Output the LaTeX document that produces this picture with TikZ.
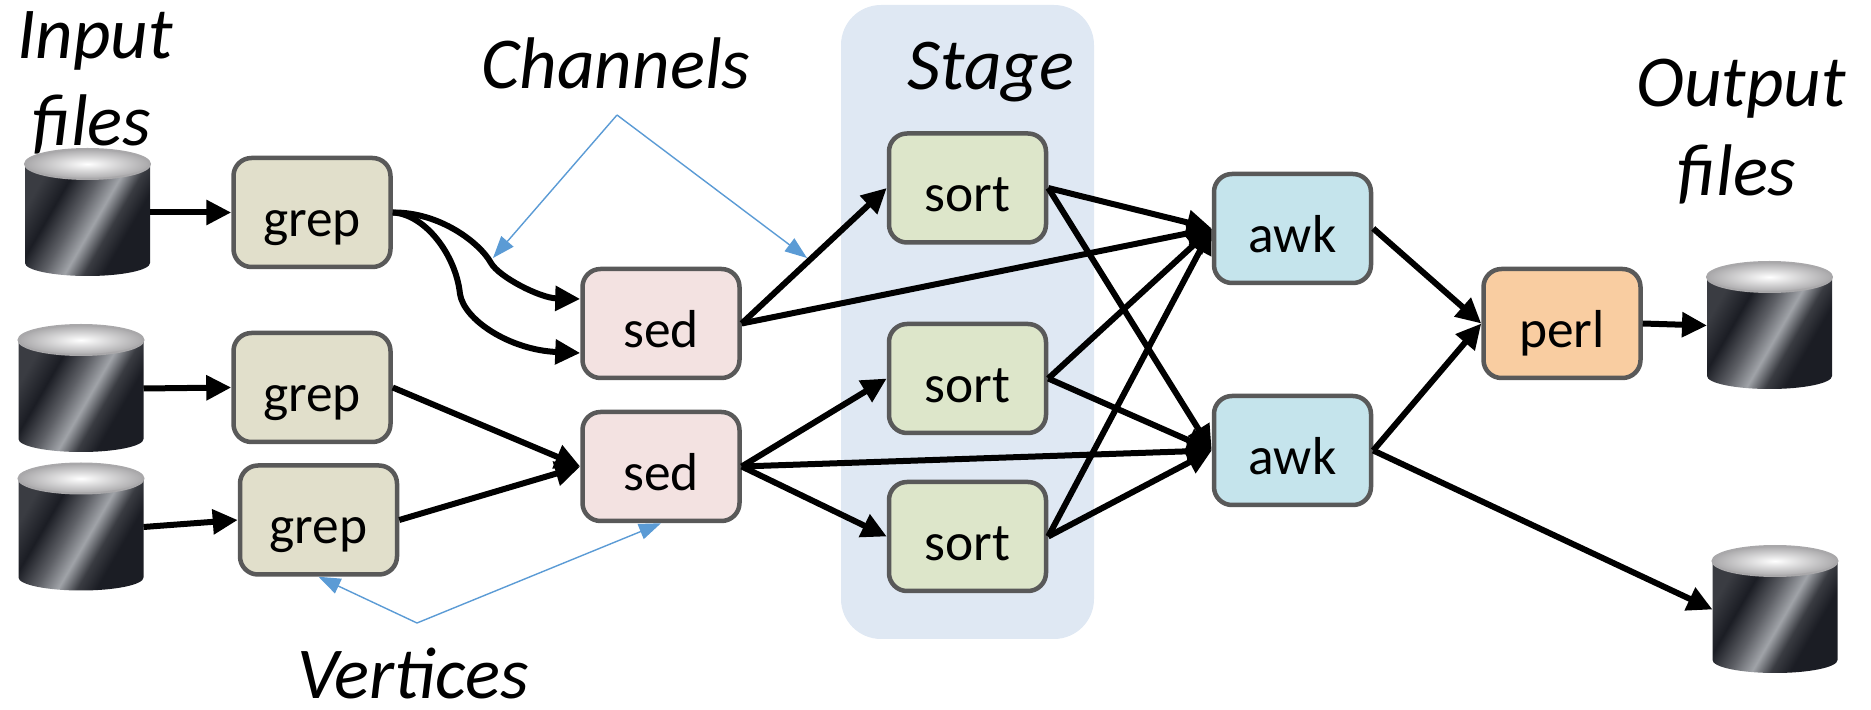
\documentclass[tikz,border=0pt]{standalone}
\usepackage{fontspec}
\setmainfont{Carlito}
\usetikzlibrary{arrows.meta}
\definecolor{boxline}{HTML}{595959}
\definecolor{grepfill}{HTML}{E1DFCB}
\definecolor{sedfill}{HTML}{F3E2E1}
\definecolor{sortfill}{HTML}{DDE6CA}
\definecolor{awkfill}{HTML}{C5E4EC}
\definecolor{perlfill}{HTML}{F9CDA1}
\definecolor{stagebg}{HTML}{DFE8F3}
\definecolor{noteblue}{HTML}{5B9BD5}
\definecolor{cylA}{HTML}{3A3C42}
\definecolor{cylB}{HTML}{1B1D24}
\definecolor{cylC}{HTML}{5E6066}
\definecolor{cylD}{HTML}{A0A3A8}
\definecolor{cylE}{HTML}{3A3C42}
\definecolor{rimgrey}{HTML}{A9A8AA}
\pgfdeclarehorizontalshading{cylbody}{100bp}{color(0bp)=(cylA); color(25bp)=(cylA); color(35bp)=(cylB); color(45bp)=(cylC); color(53bp)=(cylD); color(60bp)=(cylE); color(67bp)=(cylB); color(75bp)=(cylB); color(100bp)=(cylB)}
\newcommand{\dbcyl}[1]{%
  \begin{scope}[shift={(#1.center)}, x=1mm, y=1mm]
    \shade[shading=cylbody, shading angle=-30]
      (-6.25,4.85) -- (-6.25,-5.05)
      arc[start angle=180, end angle=360, x radius=6.25, y radius=1.3]
      -- (6.25,4.85) -- cycle;
    \shade[inner color=white, outer color=rimgrey, draw=rimgrey, line width=0.2mm]
      (0,4.85) ellipse [x radius=6.25, y radius=1.5];
  \end{scope}}
\tikzset{
  box/.style={draw=boxline, line width=0.45mm, rounded corners=1.8mm,
    minimum width=15.7mm, minimum height=10.9mm, inner sep=0pt,
    text height=5.3mm, text depth=0.5mm,
    font=\fontsize{15.2}{18}\selectfont},
  grepbox/.style={box, fill=grepfill},
  sedbox/.style={box, fill=sedfill},
  sortbox/.style={box, fill=sortfill},
  awkbox/.style={box, fill=awkfill},
  perlbox/.style={box, fill=perlfill},
  db/.style={minimum width=12.5mm, minimum height=12.7mm, inner sep=0pt, outer sep=0pt},
  stagebox/.style={fill=stagebg, rounded corners=4mm, minimum width=25.3mm,
    minimum height=63.4mm, inner sep=0pt},
  edge/.style={line width=0.6mm, -{Triangle[length=2.5mm,width=2.4mm]}},
  note/.style={draw=noteblue, line width=0.4pt, -{Triangle[length=2.2mm,width=1.6mm]}},
  lbl/.style={font=\fontsize{20.8}{25}\selectfont\itshape, inner sep=0pt, anchor=base},
}
\begin{document}
\begin{tikzpicture}[x=0.1mm, y=-0.1mm]
\useasboundingbox (0,0) rectangle (1871,710);
% stage background
\node[stagebox] (stage) at (967.5,322) {};
% labels
\node[lbl] (inA) at (95,59) {Input};
\node[lbl] (inB) at (92,146) {files};
\node[lbl] (chan) at (616,89) {Channels};
\node[lbl] (stg) at (991,90) {Stage};
\node[lbl] (outA) at (1741,107) {Output};
\node[lbl] (outB) at (1737,196) {files};
\node[lbl] (vert) at (413,699) {Vertices};
% files
\node[db] (in1) at (87.5,212.5) {};
\node[db] (in2) at (81,388.5) {};
\node[db] (in3) at (81,527) {};
\node[db] (out1) at (1769.5,325.5) {};
\node[db] (out2) at (1775,609.5) {};
\dbcyl{in1}\dbcyl{in2}\dbcyl{in3}\dbcyl{out1}\dbcyl{out2}
% vertices
\node[grepbox] (grep1) at (312,212.5) {grep};
\node[grepbox] (grep2) at (312,387.5) {grep};
\node[grepbox] (grep3) at (318.5,520) {grep};
\node[sedbox] (sed1) at (661,323.5) {sed};
\node[sedbox] (sed2) at (661,466.5) {sed};
\node[sortbox] (sort1) at (967.5,188) {sort};
\node[sortbox] (sort2) at (967.5,378.5) {sort};
\node[sortbox] (sort3) at (967.5,536.5) {sort};
\node[awkbox] (awk1) at (1292.5,228.5) {awk};
\node[awkbox] (awk2) at (1292.5,450.5) {awk};
\node[perlbox] (perl) at (1562,323.5) {perl};
% channels
\draw[edge] (in1.east) -- (grep1.west);
\draw[edge] (in2.east) -- (grep2.west);
\draw[edge] (in3.east) -- (grep3.west);
\draw[edge] (grep1.east) .. controls (440,212) and (480,243) .. (491,263)
  .. controls (499,277) and (540,298) .. ([yshift=2.45mm]sed1.west);
\draw[edge] (grep1.east) .. controls (425,214) and (456,255) .. (460,294)
  .. controls (464,320) and (510,350) .. ([yshift=-2.95mm]sed1.west);
\draw[edge] (grep2.east) -- (sed2.west);
\draw[edge] (grep3.east) -- (sed2.west);
\draw[edge] (sed1.east) -- (sort1.west);
\draw[edge] (sed1.east) -- (awk1.west);
\draw[edge] (sed2.east) -- (sort2.west);
\draw[edge] (sed2.east) -- (awk2.west);
\draw[edge] (sed2.east) -- (sort3.west);
\draw[edge] (sort1.east) -- (awk1.west);
\draw[edge] (sort1.east) -- (awk2.west);
\draw[edge] (sort2.east) -- (awk1.west);
\draw[edge] (sort2.east) -- (awk2.west);
\draw[edge] (sort3.east) -- (awk1.west);
\draw[edge] (sort3.east) -- (awk2.west);
\draw[edge] (awk1.east) -- (perl.west);
\draw[edge] (awk2.east) -- (perl.west);
\draw[edge] (perl.east) -- (out1.west);
\draw[edge] (awk2.east) -- (out2.west);
% annotation pointers
\coordinate (chv) at (617,115);
\coordinate (chl) at (493,258);
\coordinate (chr) at (807,258);
\draw[note] (chv) -- (chl);
\draw[note] (chv) -- (chr);
\coordinate (vv) at (417,623);
\draw[note] (vv) -- (grep3.south);
\draw[note] (vv) -- (sed2.south);
\end{tikzpicture}
\end{document}
